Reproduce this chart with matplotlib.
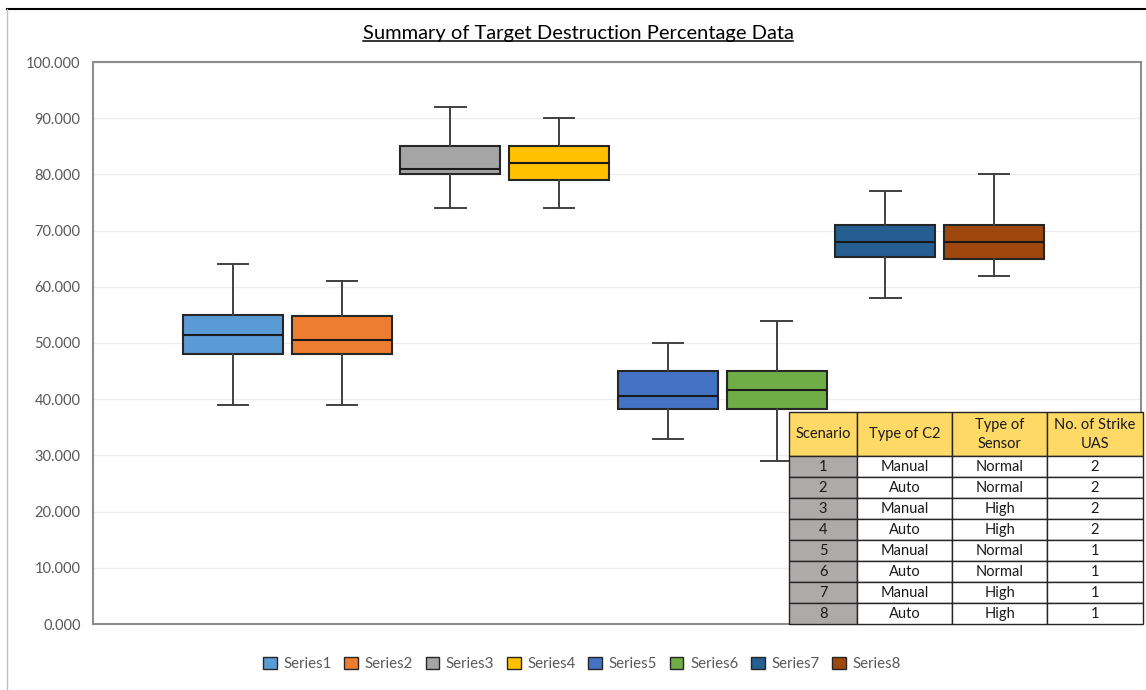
import matplotlib
matplotlib.use("Agg")
import matplotlib.pyplot as plt
from matplotlib.patches import Patch
from matplotlib.lines import Line2D
from matplotlib.ticker import FormatStrFormatter, MultipleLocator

# ---- data ----
series = ["Series1", "Series2", "Series3", "Series4", "Series5", "Series6", "Series7", "Series8"]
whisk_lo = [39, 39, 74, 74, 33, 29, 58, 62]
q1 = [48, 48, 80, 79, 38.3, 38.3, 65.3, 65]
median = [51.5, 50.5, 81, 82, 40.5, 41.6, 68, 68]
q3 = [55, 54.8, 85, 85, 45, 45, 71, 71]
whisk_hi = [64, 61, 92, 90, 50, 54, 77, 80]
colors = ["#5B9BD5", "#ED7D31", "#A5A5A5", "#FFC000", "#4472C4", "#70AD47", "#255E91", "#9E480E"]

table_header = ["Scenario", "Type of C2", "Type of\nSensor", "No. of Strike\nUAS"]
scenario = ["1", "2", "3", "4", "5", "6", "7", "8"]
c2_type = ["Manual", "Auto", "Manual", "Auto", "Manual", "Auto", "Manual", "Auto"]
sensor_type = ["Normal", "Normal", "High", "High", "Normal", "Normal", "High", "High"]
strike_uas = ["2", "2", "2", "2", "1", "1", "1", "1"]

title = "Summary of Target Destruction Percentage Data"

plt.rcParams["font.family"] = ["Lato", "DejaVu Sans"]

W, H = 1146, 690
fig = plt.figure(figsize=(W / 100, H / 100), dpi=100)
fig.patch.set_facecolor("white")

ax = fig.add_axes([93 / W, (H - 624) / H, (1141 - 93) / W, (624 - 62) / H])

stats = []
for i, s in enumerate(series):
    stats.append(dict(label=s, whislo=whisk_lo[i], q1=q1[i], med=median[i],
                      q3=q3[i], whishi=whisk_hi[i], fliers=[]))
positions = list(range(1, len(series) + 1))
bp = ax.bxp(stats, positions=positions, widths=0.92, patch_artist=True,
            showfliers=False,
            boxprops=dict(edgecolor="#262626", linewidth=1.5),
            medianprops=dict(color="#1a1a1a", linewidth=1.5),
            whiskerprops=dict(color="#404040", linewidth=1.4),
            capprops=dict(color="#404040", linewidth=1.4),
            capwidths=0.28, zorder=3)
for patch, c in zip(bp["boxes"], colors):
    patch.set_facecolor(c)

ax.set_xlim(-0.288, 9.352)
ax.set_ylim(0, 100)
ax.yaxis.set_major_locator(MultipleLocator(10))
ax.yaxis.set_major_formatter(FormatStrFormatter("%.3f"))
ax.set_xticks([])
ax.tick_params(axis="y", length=0, pad=9, labelsize=10.5, labelcolor="#595959")
ax.grid(axis="y", color="#EDEDED", linewidth=1, zorder=0)
ax.set_axisbelow(True)
for sp in ax.spines.values():
    sp.set_color("#8C8C8C")
    sp.set_linewidth(1.5)

# title
t = fig.text(578 / W, 1 - 33 / H, title, ha="center", va="center", fontsize=14.5,
             color="black")
fig.canvas.draw()
bb = t.get_window_extent(renderer=fig.canvas.get_renderer())
fig.add_artist(Line2D([bb.x0 / W, bb.x1 / W], [(bb.y0 + 1) / H, (bb.y0 + 1) / H],
                      color="black", linewidth=1.1, transform=fig.transFigure))

# legend
handles = [Patch(facecolor=c, edgecolor="#262626", linewidth=1.0, label=s)
           for s, c in zip(series, colors)]
fig.legend(handles=handles, loc="center", bbox_to_anchor=(582 / W, 1 - 664 / H),
           ncol=8, frameon=False, fontsize=10.8, handlelength=0.9, handleheight=0.9,
           handletextpad=0.45, columnspacing=0.85, labelcolor="#595959")

# table
tax = fig.add_axes([789 / W, (H - 624) / H, (1143 - 789) / W, (624 - 412) / H])
tax.axis("off")
cell_text = [[scenario[i], c2_type[i], sensor_type[i], strike_uas[i]] for i in range(len(scenario))]
tbl = tax.table(cellText=cell_text, colLabels=table_header, bbox=[0, 0, 1, 1],
                colWidths=[68, 95, 95, 96], cellLoc="center")
tbl.auto_set_font_size(False)
for (r, c), cell in tbl.get_celld().items():
    cell.set_edgecolor("#262626")
    cell.set_linewidth(1.0)
    cell.get_text().set_fontsize(10.5)
    cell.get_text().set_color("#1a1a1a")
    if r == 0:
        cell.set_height(2.1)
        cell.set_facecolor("#FFD966")
        cell.get_text().set_linespacing(1.45)
    else:
        cell.set_height(1.0)
        cell.set_facecolor("#AEAAAA" if c == 0 else "white")

# outer chart border
fig.add_artist(Line2D([7 / W, 1], [1 - 9 / H, 1 - 9 / H], color="black", linewidth=1.5,
                      transform=fig.transFigure))
fig.add_artist(Line2D([7 / W, 7 / W], [0, 1 - 9 / H], color="#BFBFBF", linewidth=1.0,
                      transform=fig.transFigure))

fig.savefig("out.png", dpi=100, facecolor="white")
